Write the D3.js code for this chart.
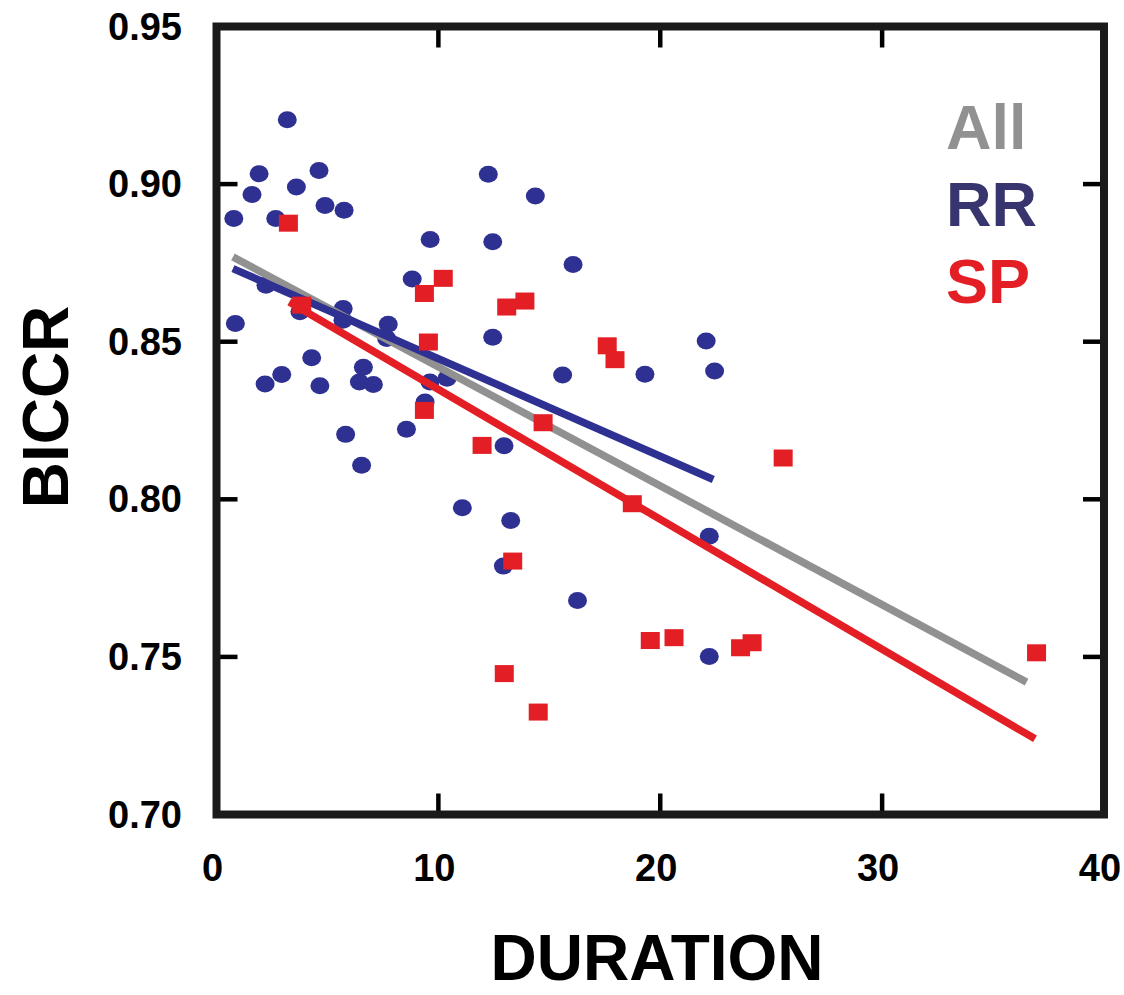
<!DOCTYPE html>
<html>
<head>
<meta charset="utf-8">
<script src="https://cdn.jsdelivr.net/npm/d3@7"></script>
<style>
html,body{margin:0;padding:0;background:#fff;}
svg{display:block;}
text{font-family:"Liberation Sans",Arial,Helvetica,sans-serif;font-weight:bold;}
</style>
</head>
<body>
<svg id="chart" width="1124" height="995"></svg>
<script>
// ---- data ----
const rrDuration = [3.19,1.92,4.62,1.60,3.60,4.89,5.75,0.78,2.67,9.63,12.25,12.45,14.37,16.07,8.82,2.23,3.76,5.71,5.70,7.74,7.67,0.85,12.45,4.29,6.62,2.94,2.19,4.66,6.44,7.07,9.62,10.39,9.40,8.56,5.82,6.54,11.08,12.96,13.26,12.93,16.27,15.60,19.31,22.07,22.45,22.21,22.21];
const rrBiccr    = [0.9204,0.9033,0.9043,0.8967,0.8991,0.8932,0.8917,0.8891,0.8891,0.8824,0.9031,0.8817,0.8962,0.8745,0.8699,0.8679,0.8595,0.8605,0.8568,0.8555,0.8510,0.8558,0.8514,0.8449,0.8419,0.8396,0.8366,0.8360,0.8372,0.8364,0.8372,0.8384,0.8309,0.8222,0.8206,0.8108,0.7973,0.8170,0.7933,0.7788,0.7679,0.8394,0.8397,0.8502,0.8407,0.7883,0.7501];
const spDuration = [3.24,3.84,10.22,9.37,9.55,13.08,13.90,17.61,17.96,9.37,14.72,11.97,13.35,18.74,25.54,19.55,20.62,23.62,24.14,12.97,14.50,36.96];
const spBiccr    = [0.8876,0.8616,0.8701,0.8653,0.8499,0.8610,0.8629,0.8487,0.8443,0.8282,0.8243,0.8171,0.7804,0.7986,0.8131,0.7552,0.7561,0.7529,0.7545,0.7447,0.7325,0.7513];
// regression line end points [duration, biccr]
const allLine = [[0.74,0.8769],[36.51,0.7420]];
const rrLine  = [[0.74,0.8732],[22.39,0.8063]];
const spLine  = [[3.28,0.8626],[36.89,0.7240]];
const xTicks = [0,10,20,30,40];
const yTicks = [0.70,0.75,0.80,0.85,0.90,0.95];
const legendLabels = ["All","RR","SP"];

const colors = {all:"#919191", rr:"#2e3192", sp:"#e31e24", rrText:"#37346e"};

const svg = d3.select("#chart");
const x = d3.scaleLinear().domain([0,40]).range([216.5,1104]);
const y = d3.scaleLinear().domain([0.70,0.95]).range([814.5,26.5]);

// ticks (inward) on all four sides
const tickLen = 21;
const g = svg.append("g");
const innerX = xTicks.filter(d => d>0 && d<40);
const innerY = yTicks.filter(d => d>0.70 && d<0.95);
g.selectAll(".tb").data(innerX).join("line")
  .attr("x1", d=>x(d)).attr("x2", d=>x(d))
  .attr("y1", y(0.70)).attr("y2", y(0.70)-tickLen)
  .attr("stroke","#000").attr("stroke-width",4.5);
g.selectAll(".tt").data(innerX).join("line")
  .attr("x1", d=>x(d)).attr("x2", d=>x(d))
  .attr("y1", y(0.95)).attr("y2", y(0.95)+tickLen)
  .attr("stroke","#000").attr("stroke-width",4.5);
g.selectAll(".tl").data(innerY).join("line")
  .attr("y1", d=>y(d)).attr("y2", d=>y(d))
  .attr("x1", x(0)).attr("x2", x(0)+tickLen)
  .attr("stroke","#000").attr("stroke-width",4.5);
g.selectAll(".tr").data(innerY).join("line")
  .attr("y1", d=>y(d)).attr("y2", d=>y(d))
  .attr("x1", x(40)).attr("x2", x(40)-tickLen)
  .attr("stroke","#000").attr("stroke-width",4.5);

// tick labels
svg.selectAll(".yl").data(yTicks).join("text")
  .attr("x", 182).attr("y", d=>y(d)+13)
  .attr("text-anchor","end").attr("font-size",38).attr("fill","#000")
  .text(d=>d3.format(".2f")(d));
svg.selectAll(".xl").data(xTicks).join("text")
  .attr("x", d=>x(d)-4).attr("y", 881)
  .attr("text-anchor","middle").attr("font-size",38).attr("fill","#000")
  .text(d=>d);

// axis titles
svg.append("text").attr("x",657).attr("y",980).attr("text-anchor","middle")
  .attr("font-size",64).attr("fill","#000").text("DURATION");
svg.append("text").attr("transform","translate(68,407) rotate(-90)")
  .attr("text-anchor","middle").attr("font-size",64).attr("fill","#000").text("BICCR");

// RR points (ellipses)
svg.append("g").selectAll("ellipse").data(rrDuration.map((d,i)=>[d,rrBiccr[i]])).join("ellipse")
  .attr("cx", d=>x(d[0])).attr("cy", d=>y(d[1]))
  .attr("rx", 9.5).attr("ry", 8.5).attr("fill", colors.rr);

const line = d3.line().x(d=>x(d[0])).y(d=>y(d[1]));
svg.append("path").attr("d", line(allLine)).attr("stroke", colors.all).attr("stroke-width",7.5).attr("fill","none");
svg.append("path").attr("d", line(rrLine)).attr("stroke", colors.rr).attr("stroke-width",7.5).attr("fill","none");

// SP points (squares)
const sw = 19, sh = 17;
svg.append("g").selectAll("rect").data(spDuration.map((d,i)=>[d,spBiccr[i]])).join("rect")
  .attr("x", d=>x(d[0])-sw/2).attr("y", d=>y(d[1])-sh/2)
  .attr("width", sw).attr("height", sh).attr("fill", colors.sp);

svg.append("path").attr("d", line(spLine)).attr("stroke", colors.sp).attr("stroke-width",7.5).attr("fill","none");

// frame
svg.append("rect").attr("x", x(0)).attr("y", y(0.95))
  .attr("width", x(40)-x(0)).attr("height", y(0.70)-y(0.95))
  .attr("fill","none").attr("stroke","#1a1a1a").attr("stroke-width",8);

// legend
const legendColors = [colors.all, colors.rrText, colors.sp];
svg.selectAll(".lg").data(legendLabels).join("text")
  .attr("x", 946).attr("y", (d,i)=>149 + i*77)
  .attr("font-size",63).attr("fill",(d,i)=>legendColors[i])
  .text(d=>d);
</script>
</body>
</html>
